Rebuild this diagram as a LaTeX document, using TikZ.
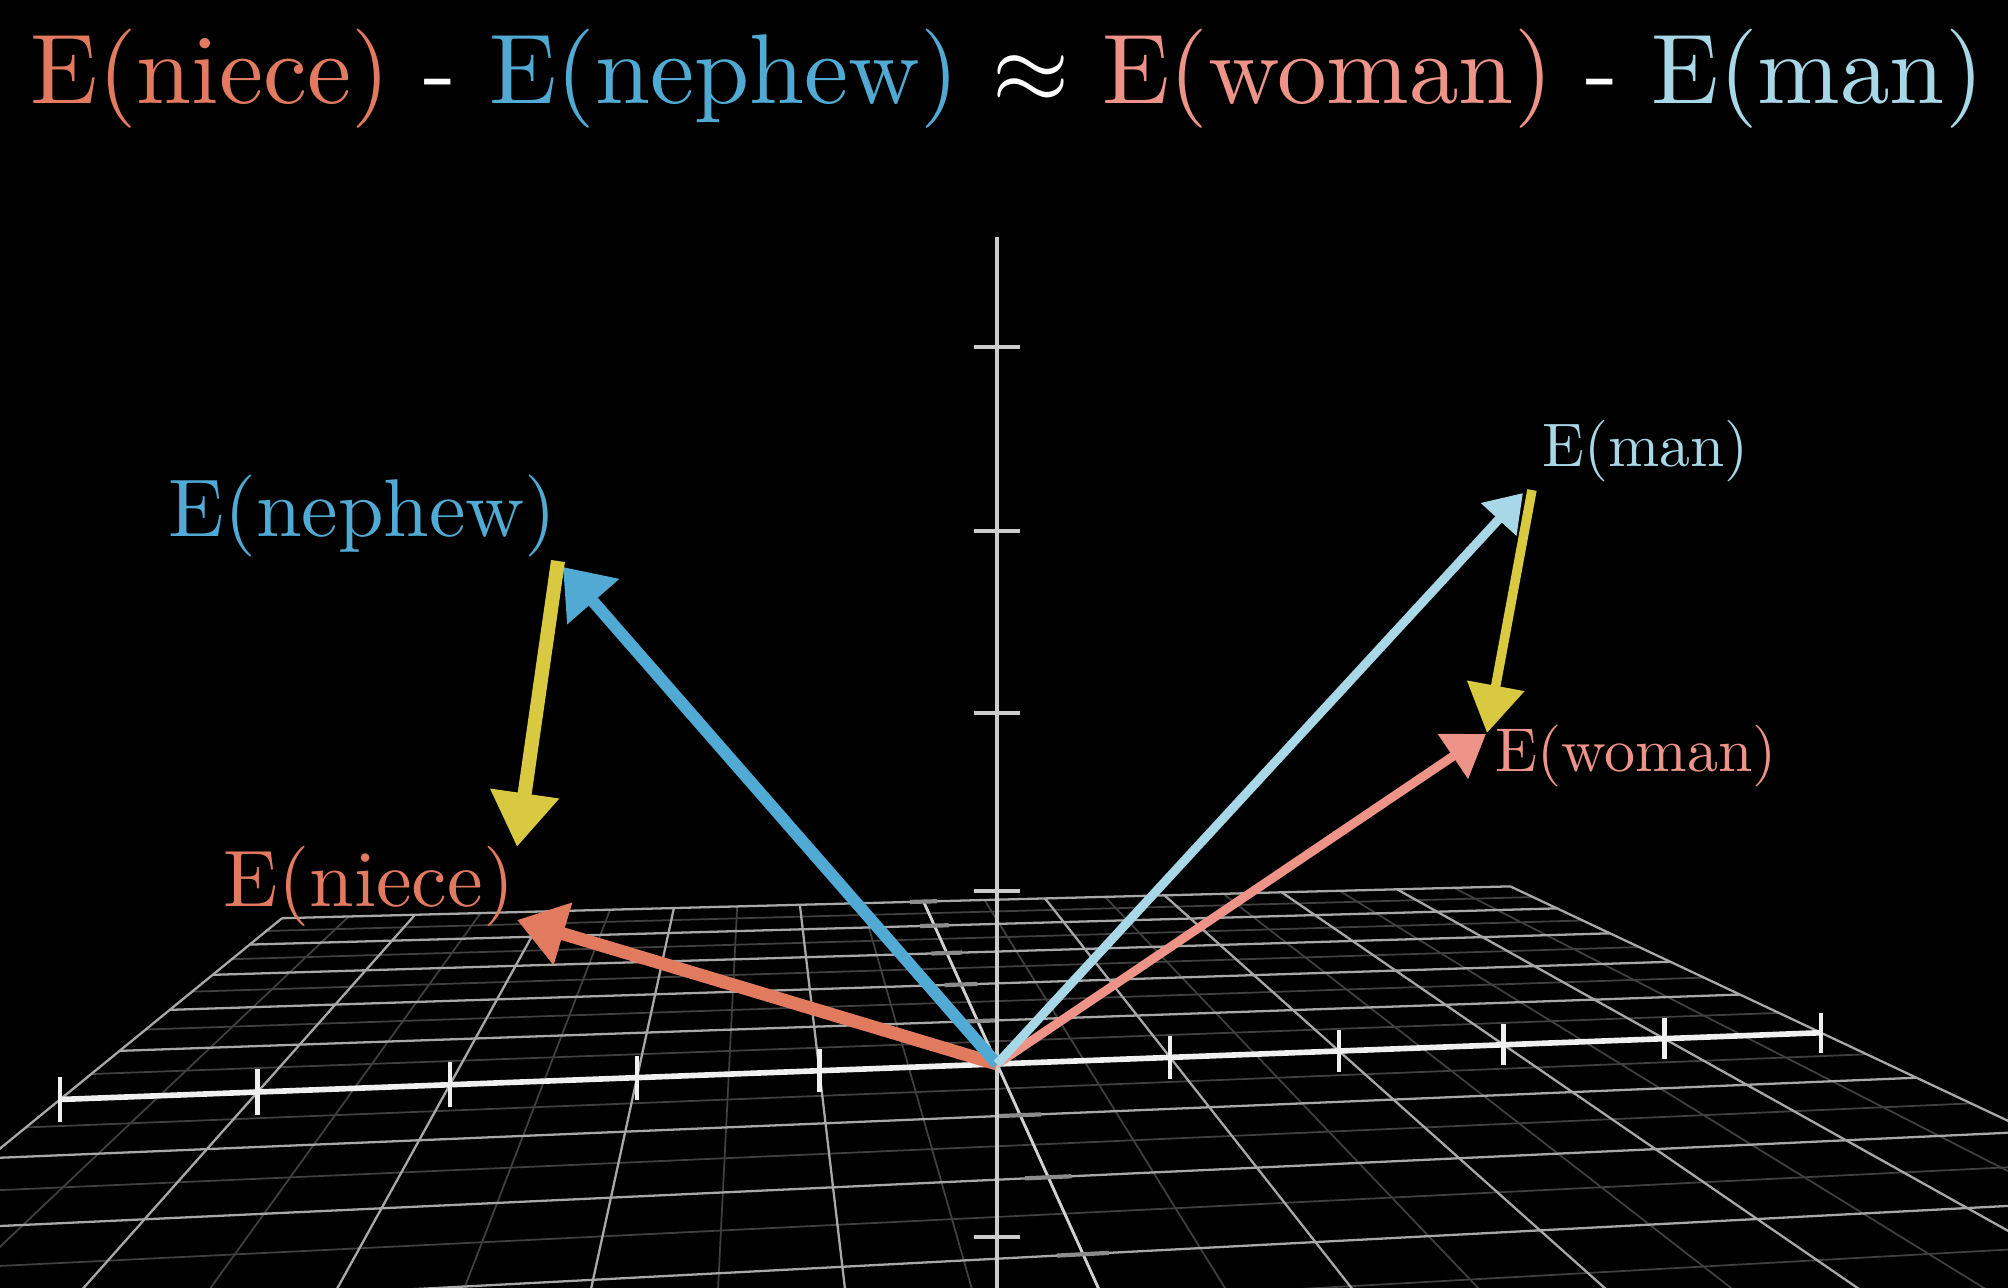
\documentclass[tikz,border=0pt]{standalone}
\usepackage{fontspec}
\setmainfont{lmroman10-regular.otf}
\usepackage{graphicx}
\usetikzlibrary{arrows.meta}
\definecolor{niece-red}{HTML}{E27A5F}
\definecolor{nephew-blue}{HTML}{50AAD4}
\definecolor{woman-pink}{HTML}{EE9388}
\definecolor{man-blue}{HTML}{A8D8E8}
\definecolor{diff-yellow}{HTML}{D8C940}
\definecolor{grid-major}{HTML}{A8A8A8}
\definecolor{grid-minor}{HTML}{404040}
\definecolor{axis-grey}{HTML}{CCCCCC}

\begin{document}
\begin{tikzpicture}[x=0.01cm, y=-0.01cm,
    declare function={gw(\u,\v)=0.012834*\u+0.08766*\v+1;
      gx(\u,\v)=(188.17*\u+66.27*\v+997)/gw(\u,\v);
      gy(\u,\v)=(7.0*\u+46.55*\v+1064)/gw(\u,\v);},
    gridmajor/.style={grid-major, line width=0.65pt},
    gridminor/.style={grid-minor, line width=0.5pt},
    xaxisline/.style={white!94!black, line width=1.6pt},
    xtick/.style={white!94!black, line width=1.3pt},
    depthaxis/.style={white!82!black, line width=0.8pt},
    depthtick/.style={white!55!black, line width=1.2pt},
    zaxisline/.style={axis-grey, line width=0.9pt},
    ztick/.style={axis-grey, line width=0.9pt},
    vec/.style n args={3}{line width=#1, -{Triangle[length=#2, width=#3]}},
    lbl/.style={anchor=base west, inner sep=0pt}]
  \useasboundingbox (0,0) rectangle (2008,1288);
  \fill[black] (0,0) rectangle (2008,1288);
  \clip (0,0) rectangle (2008,1288);

  % grid in the plane, seen in perspective
  \foreach \u in {-4.5,-3.5,...,4.5}
    \draw[gridminor] ({gx(\u,-5)},{gy(\u,-5)}) -- ({gx(\u,5)},{gy(\u,5)});
  \foreach \v in {-4.5,-3.5,...,4.5}
    \draw[gridminor] ({gx(-5,\v)},{gy(-5,\v)}) -- ({gx(5,\v)},{gy(5,\v)});
  \foreach \u in {-5,...,5}
    \draw[gridmajor] ({gx(\u,-5)},{gy(\u,-5)}) -- ({gx(\u,5)},{gy(\u,5)});
  \foreach \v in {-5,...,5}
    \draw[gridmajor] ({gx(-5,\v)},{gy(-5,\v)}) -- ({gx(5,\v)},{gy(5,\v)});

  % axes
  \draw[depthaxis] ({gx(0,5)},{gy(0,5)}) -- ({gx(0,-5)},{gy(0,-5)});
  \foreach \v in {-5,-4,-3,-2,-1,1,2,3,4,5}
    \draw[depthtick] ({gx(-0.11,\v)},{gy(-0.11,\v)}) -- ({gx(0.11,\v)},{gy(0.11,\v)});
  \draw[xaxisline] ({gx(-5,0)},{gy(-5,0)}) -- ({gx(5,0)},{gy(5,0)});
  \foreach \u in {-5,-4,-3,-2,-1,1,2,3,4,5}
    \draw[xtick] ({gx(\u,0)},{gy(\u,0)-21.5/gw(\u,0)})
      -- ({gx(\u,0)},{gy(\u,0)+21.5/gw(\u,0)});
  \coordinate (ztop) at (997,237);
  \coordinate (zbot) at (997,1288);
  \draw[zaxisline] (ztop) -- (zbot);
  \foreach \t in {347,531,713,891,1237}
    \draw[ztick] (974,\t) -- (1020,\t);

  % vectors
  \coordinate (O) at (997,1064);
  \coordinate (nephewtip) at (563,567);
  \coordinate (niecetip) at (517,920);
  \coordinate (mantip) at (1523,493);
  \coordinate (womantip) at (1486,734);
  \coordinate (leftstart) at (558,561);
  \coordinate (lefttip) at (517,847);
  \coordinate (rightstart) at (1532,490);
  \coordinate (righttip) at (1487,733);
  \draw[vec={0.13cm}{0.48cm}{0.62cm}, niece-red] (O) -- (niecetip);
  \draw[vec={0.12cm}{0.46cm}{0.66cm}, nephew-blue] (O) -- (nephewtip);
  \draw[vec={0.09cm}{0.40cm}{0.52cm}, woman-pink] (O) -- (womantip);
  \draw[vec={0.09cm}{0.36cm}{0.46cm}, man-blue] (O) -- (mantip);
  \draw[vec={0.14cm}{0.54cm}{0.66cm}, diff-yellow] (leftstart) -- (lefttip);
  \draw[vec={0.095cm}{0.48cm}{0.56cm}, diff-yellow] (rightstart) -- (righttip);

  % labels
  \node[lbl, text=nephew-blue, font=\fontsize{23.3}{28}\selectfont]
    (nephewlbl) at (168,536) {E(nephew)};
  \node[lbl, text=niece-red, font=\fontsize{22.8}{27}\selectfont]
    (niecelbl) at (223,906) {E(niece)};
  \node[lbl, text=man-blue, font=\fontsize{17.5}{21}\selectfont]
    (manlbl) at (1542,466) {E(man)};
  \node[lbl, text=woman-pink, font=\fontsize{17.6}{21}\selectfont]
    (womanlbl) at (1495,771) {E(woman)};
  \node[lbl, text=white, font=\fontsize{28.2}{33}\selectfont] (title) at (30,104)
    {\textcolor{niece-red}{E(niece)} - \textcolor{nephew-blue}{E(nephew)}
     \scalebox{1.133}{$\approx$} \textcolor{woman-pink}{E(woman)} - \textcolor{man-blue}{E(man)}};
\end{tikzpicture}
\end{document}
